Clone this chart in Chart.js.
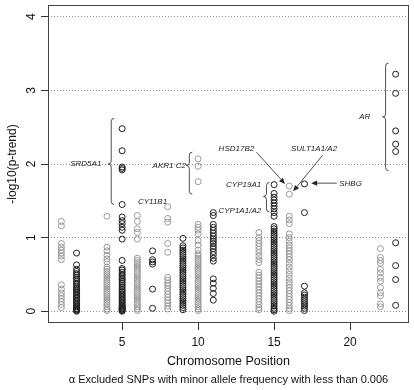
<!DOCTYPE html>
<html>
<head>
<meta charset="utf-8">
<script src="https://cdn.jsdelivr.net/npm/chart.js@4.4.0/dist/chart.umd.min.js"></script>
<style>
  html, body { margin: 0; padding: 0; background: #fff; }
  #wrap { width: 414px; height: 390px; }
</style>
</head>
<body>
<div id="wrap"><canvas id="chart" width="414" height="390"></canvas></div>
<script>
// chromosome positions that carry SNPs
const chromosomes = [1, 2, 4, 5, 6, 7, 8, 9, 10, 11, 14, 15, 16, 17, 22, 23];

// -log10(p-trend) per SNP, one list per chromosome
const chr1 = [1.22, 1.16, 0.92, 0.87, 0.83, 0.79, 0.75, 0.70, 0.36, 0.30, 0.25, 0.21, 0.17, 0.13, 0.09, 0.05];
const chr2 = [0.79, 0.63, 0.57, 0.54, 0.51, 0.49, 0.46, 0.44, 0.41, 0.38, 0.36, 0.33, 0.31, 0.29, 0.27, 0.25, 0.23, 0.21, 0.19, 0.17, 0.15, 0.13, 0.11, 0.09, 0.07, 0.06, 0.04, 0.03, 0.02, 0.01, 0.00];
const chr4 = [1.29, 0.87, 0.82, 0.76, 0.71, 0.67, 0.60, 0.57, 0.54, 0.51, 0.48, 0.45, 0.42, 0.39, 0.36, 0.33, 0.30, 0.27, 0.24, 0.21, 0.18, 0.15, 0.12, 0.09, 0.06, 0.03, 0.01];
const chr5 = [2.48, 2.18, 1.96, 1.94, 1.92, 1.45, 1.28, 1.23, 1.19, 1.14, 1.10, 0.98, 0.69, 0.58, 0.56, 0.53, 0.50, 0.48, 0.45, 0.43, 0.40, 0.38, 0.35, 0.33, 0.30, 0.28, 0.26, 0.24, 0.22, 0.20, 0.18, 0.16, 0.14, 0.12, 0.10, 0.08, 0.06, 0.05, 0.04, 0.03, 0.02, 0.01, 0.00];
const chr6 = [1.30, 1.22, 1.12, 1.07, 0.98, 0.72, 0.69, 0.66, 0.63, 0.60, 0.57, 0.54, 0.51, 0.48, 0.45, 0.42, 0.39, 0.36, 0.33, 0.30, 0.27, 0.24, 0.21, 0.18, 0.15, 0.12, 0.09, 0.06, 0.03, 0.01];
const chr7 = [0.82, 0.70, 0.67, 0.64, 0.30, 0.04];
const chr8 = [1.42, 1.26, 1.21, 0.92, 0.80, 0.46, 0.42, 0.38, 0.35, 0.31, 0.27, 0.23, 0.19, 0.15, 0.11, 0.07, 0.03];
const chr9 = [0.99, 0.89, 0.86, 0.83, 0.80, 0.77, 0.74, 0.71, 0.68, 0.65, 0.62, 0.59, 0.56, 0.53, 0.50, 0.47, 0.44, 0.41, 0.38, 0.35, 0.32, 0.29, 0.26, 0.23, 0.20, 0.17, 0.14, 0.11, 0.08, 0.05, 0.02];
const chr10 = [2.07, 1.97, 1.76, 1.18, 1.14, 1.10, 1.05, 0.96, 0.90, 0.83, 0.78, 0.75, 0.72, 0.69, 0.66, 0.63, 0.60, 0.57, 0.54, 0.51, 0.48, 0.45, 0.42, 0.39, 0.36, 0.33, 0.30, 0.27, 0.24, 0.21, 0.18, 0.15, 0.12, 0.09, 0.06, 0.03, 0.01];
const chr11 = [1.34, 1.30, 1.18, 1.14, 1.10, 1.06, 1.02, 0.98, 0.95, 0.92, 0.88, 0.85, 0.81, 0.77, 0.72, 0.68, 0.44, 0.38, 0.31, 0.24, 0.15];
const chr14 = [1.07, 1.00, 0.96, 0.92, 0.88, 0.84, 0.80, 0.75, 0.70, 0.66, 0.53, 0.49, 0.45, 0.41, 0.37, 0.33, 0.29, 0.25, 0.21, 0.17, 0.13, 0.09, 0.05, 0.02];
const chr15 = [1.72, 1.60, 1.55, 1.51, 1.47, 1.43, 1.39, 1.34, 1.29, 1.15, 1.12, 1.09, 1.06, 1.03, 1.00, 0.97, 0.94, 0.91, 0.88, 0.85, 0.82, 0.79, 0.76, 0.73, 0.70, 0.67, 0.64, 0.61, 0.58, 0.55, 0.52, 0.49, 0.46, 0.43, 0.40, 0.37, 0.34, 0.31, 0.28, 0.25, 0.22, 0.19, 0.16, 0.13, 0.10, 0.07, 0.04, 0.02, 0.00];
const chr16 = [1.70, 1.59, 1.29, 1.24, 1.19, 1.05, 1.00, 0.95, 0.90, 0.86, 0.82, 0.78, 0.74, 0.70, 0.65, 0.60, 0.55, 0.50, 0.45, 0.40, 0.36, 0.32, 0.28, 0.24, 0.20, 0.16, 0.12, 0.08, 0.04, 0.01];
const chr17 = [1.73, 1.34, 0.34, 0.25, 0.22, 0.19, 0.16, 0.13, 0.10, 0.07, 0.04, 0.01];
const chr22 = [0.85, 0.73, 0.69, 0.65, 0.57, 0.52, 0.46, 0.41, 0.32, 0.25, 0.21, 0.10, 0.06];
const chr23 = [3.22, 2.96, 2.45, 2.27, 2.17, 0.93, 0.62, 0.43, 0.08];

const chrValues = [chr1, chr2, chr4, chr5, chr6, chr7, chr8, chr9, chr10, chr11, chr14, chr15, chr16, chr17, chr22, chr23];

const xTicks = [5, 10, 15, 20];
const yTicks = [0, 1, 2, 3, 4];
const geneLabels = ['SRD5A1', 'CY11B1', 'AKR1 C2', 'HSD17B2', 'CYP19A1', 'CYP1A1/A2', 'SULT1A1/A2', 'SHBG', 'AR'];
const caption = 'α Excluded SNPs with minor allele frequency with less than 0.006';

const FONT = "'Liberation Sans', Arial, sans-serif";

// alternate light / dark by column
const datasets = chromosomes.map((chr, i) => ({
    data: chrValues[i].map(v => ({ x: chr, y: v })),
    borderColor: i % 2 === 0 ? '#999999' : '#1e1e1e',
    backgroundColor: 'rgba(0,0,0,0)',
    pointRadius: 3,
    pointBorderWidth: 1,
}));

function brace(ctx, x, yTop, yBot, yTip, w) {
    ctx.beginPath();
    ctx.moveTo(x + w, yTop);
    ctx.quadraticCurveTo(x, yTop, x, yTop + w);
    ctx.lineTo(x, yTip - w);
    ctx.quadraticCurveTo(x, yTip, x - w, yTip);
    ctx.quadraticCurveTo(x, yTip, x, yTip + w);
    ctx.lineTo(x, yBot - w);
    ctx.quadraticCurveTo(x, yBot, x + w, yBot);
    ctx.stroke();
}

function arrow(ctx, x1, y1, x2, y2) {
    const a = Math.atan2(y2 - y1, x2 - x1);
    const len = 6, hw = 2.6;
    ctx.beginPath();
    ctx.moveTo(x1, y1);
    ctx.lineTo(x2 - Math.cos(a) * len, y2 - Math.sin(a) * len);
    ctx.stroke();
    ctx.beginPath();
    ctx.moveTo(x2, y2);
    ctx.lineTo(x2 - Math.cos(a) * len - Math.sin(a) * hw, y2 - Math.sin(a) * len + Math.cos(a) * hw);
    ctx.lineTo(x2 - Math.cos(a) * len + Math.sin(a) * hw, y2 - Math.sin(a) * len - Math.cos(a) * hw);
    ctx.closePath();
    ctx.fill();
}

const boxAndNotes = {
    id: 'boxAndNotes',
    afterDatasetsDraw(chart) {
        const { ctx, chartArea: a, scales: { x, y } } = chart;
        const px = v => x.getPixelForValue(v);
        const py = v => y.getPixelForValue(v);
        ctx.save();
        // box round the plot
        ctx.strokeStyle = '#444';
        ctx.lineWidth = 1;
        ctx.strokeRect(Math.round(a.left) + 0.5, Math.round(a.top) + 0.5, Math.round(a.width) - 1, Math.round(a.height) - 1);

        // y tick labels, turned like R does
        ctx.fillStyle = '#111';
        ctx.font = '12px ' + FONT;
        ctx.textAlign = 'center';
        ctx.textBaseline = 'middle';
        yTicks.forEach(v => {
            ctx.save();
            ctx.translate(32, py(v));
            ctx.rotate(-Math.PI / 2);
            ctx.fillText(String(v), 0, 0);
            ctx.restore();
        });

        // caption under the x title
        ctx.font = '11px ' + FONT;
        ctx.fillText(caption, (a.left + a.right) / 2, 380);

        ctx.fillStyle = '#222';
        ctx.strokeStyle = '#222';
        ctx.lineWidth = 0.8;
        ctx.font = 'italic 8px ' + FONT;

        ctx.textAlign = 'right';
        ctx.fillText(geneLabels[0], px(3.63), py(2.0));
        brace(ctx, px(4.28), py(2.62), py(1.45), py(2.0), 3);

        ctx.textAlign = 'center';
        ctx.fillText(geneLabels[1], px(7.0), py(1.48));

        ctx.textAlign = 'right';
        ctx.fillText(geneLabels[2], px(9.2), py(1.98));
        brace(ctx, px(9.42), py(2.16), py(1.59), py(1.98), 3);

        ctx.fillText(geneLabels[3], px(13.69), py(2.21));
        arrow(ctx, px(13.84), py(2.16), px(15.72), py(1.73));

        ctx.fillText(geneLabels[4], px(14.15), py(1.72));
        ctx.fillText(geneLabels[5], px(14.15), py(1.37));
        brace(ctx, px(14.5), py(1.75), py(1.35), py(1.56), 3);

        ctx.textAlign = 'center';
        ctx.fillText(geneLabels[6], px(17.63), py(2.21));
        arrow(ctx, px(18.2), py(2.12), px(16.26), py(1.63));

        ctx.textAlign = 'left';
        ctx.fillText(geneLabels[7], px(19.29), py(1.73));
        arrow(ctx, px(19.12), py(1.74), px(17.44), py(1.74));

        ctx.textAlign = 'center';
        ctx.fillText(geneLabels[8], px(20.97), py(2.64));
        brace(ctx, px(22.34), py(3.37), py(1.91), py(2.64), 3);
        ctx.restore();
    }
};

new Chart(document.getElementById('chart'), {
    type: 'scatter',
    data: { datasets },
    options: {
        responsive: false,
        animation: false,
        layout: { padding: { top: 2, right: 2, left: 0, bottom: 0 } },
        plugins: {
            legend: { display: false },
            tooltip: { enabled: false },
        },
        scales: {
            x: {
                type: 'linear',
                min: 0.12,
                max: 23.88,
                afterBuildTicks: (scale) => { scale.ticks = xTicks.map(v => ({ value: v })); },
                afterFit: (scale) => { scale.height = 67; },
                border: { display: false },
                grid: { drawOnChartArea: false, drawTicks: true, tickLength: 7, tickColor: '#333' },
                ticks: { color: '#111', font: { family: FONT, size: 12 }, padding: 5, maxRotation: 0 },
                title: {
                    display: true,
                    text: 'Chromosome Position',
                    color: '#111',
                    font: { family: FONT, size: 12.5 },
                    padding: { top: 0, bottom: 21 },
                },
            },
            y: {
                min: -0.16,
                max: 4.16,
                afterBuildTicks: (scale) => { scale.ticks = yTicks.map(v => ({ value: v })); },
                afterFit: (scale) => { scale.width = 48; },
                border: { display: false, dash: [1, 2] },
                grid: {
                    color: '#8c8c8c',
                    tickBorderDash: [],
                    tickColor: '#333',
                    tickLength: 7,
                    lineWidth: 1,
                },
                ticks: { display: false },
                title: {
                    display: true,
                    text: '-log10(p-trend)',
                    color: '#111',
                    font: { family: FONT, size: 12 },
                    padding: { top: 5, bottom: 0 },
                },
            },
        },
    },
    plugins: [boxAndNotes],
});
</script>
</body>
</html>
